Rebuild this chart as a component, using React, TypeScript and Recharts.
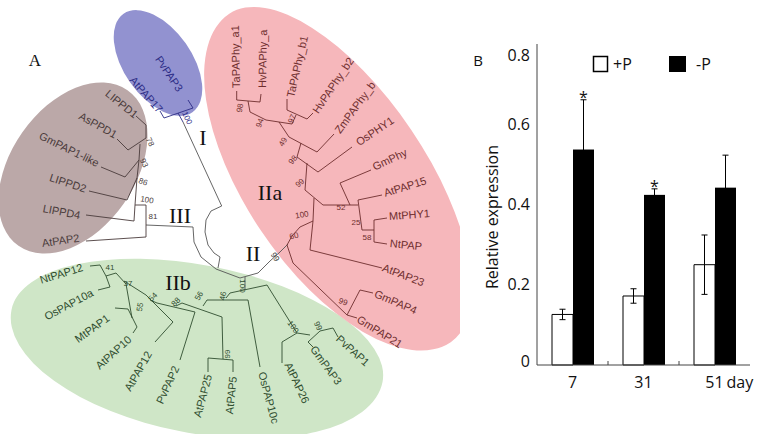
import React from 'react';
import {
  BarChart, Bar, XAxis, YAxis, ErrorBar, Customized,
  ScatterChart, Scatter,
} from 'recharts';

// ---------- panel B values ----------
const days = ['7', '31', '51'];
const plusP = [0.126, 0.172, 0.25];
const plusPErr = [0.013, 0.018, 0.074];
const minusP = [0.537, 0.424, 0.442];
const minusPErr = [0.124, 0.015, 0.081];
const starred = [true, true, false];
const yTicks = [0, 0.2, 0.4, 0.6, 0.8];

// ---------- panel A (tree), in the figure's own 460 x 434 space ----------
type Pt = [number, number];

// shaded clade areas: centre, half-length, half-widths on each side, tilt
const cladeAreas = [
  { clade: 'IIb', x: 197, y: 346, rx: 189, ryTop: 81, ryBottom: 87, angle: 11 },
  { clade: 'IIa', x: 340, y: 178, rx: 198, ryTop: 86, ryBottom: 95, angle: 56 },
  { clade: 'III', x: 73, y: 168, rx: 95, ryTop: 62, ryBottom: 62, angle: -55 },
  { clade: 'I', x: 158, y: 63, rx: 60, ryTop: 34, ryBottom: 34, angle: 55 },
];

const cladeNames = [
  { name: 'I', x: 203, y: 137 },
  { name: 'II', x: 253, y: 253 },
  { name: 'IIa', x: 270, y: 192 },
  { name: 'IIb', x: 178, y: 282 },
  { name: 'III', x: 180, y: 215 },
];

// leaf name, text start, reading angle
const leavesI: [string, number, number, number][] = [
  ['PvPAP3', 158, 57, 56],
  ['AtPAP17', 132, 78, 49],
];
const leavesIII: [string, number, number, number][] = [
  ['LIPPD1', 107, 92, 39],
  ['AsPPD1', 80, 115, 29],
  ['GmPAP1-like', 40, 135, 26],
  ['LIPPD2', 50, 177, 18],
  ['LIPPD4', 43, 208, 11],
  ['AtPAP2', 42, 243, -8],
];
const leavesIIa: [string, number, number, number][] = [
  ['TaPAPhy_a1', 236, 88, -91],
  ['HvPAPhy_a', 262, 88, -89],
  ['TaPAPhy_b1', 290, 97, -77],
  ['HvPAPhy_b2', 315, 112, -56],
  ['ZmPAPhy_b', 337, 132, -54],
  ['OsPHY1', 357, 143, -34],
  ['GmPhy', 373, 167, -25],
  ['AtPAP15', 384, 193, -17],
  ['MtPHY1', 389, 216, -4],
  ['NtPAP', 390, 243, 6],
  ['AtPAP23', 383, 267, 21],
  ['GmPAP4', 375, 293, 23],
  ['GmPAP21', 358, 318, 32],
];
const leavesIIb: [string, number, number, number][] = [
  ['NtPAP12', 40, 280, -17],
  ['OsPAP10a', 45, 317, -28],
  ['MtPAP1', 76, 340, -36],
  ['AtPAP10', 97, 367, -42],
  ['AtPAP12', 127, 390, -60],
  ['PvPAP2', 159, 403, -65],
  ['AtPAP25', 197, 417, -75],
  ['AtPAP5', 229, 414, -84],
  ['OsPAP10c', 262, 372, 75],
  ['AtPAP26', 288, 363, 65],
  ['GmPAP3', 313, 347, 54],
  ['PvPAP1', 338, 337, 42],
];

// bootstrap support: value, position, angle
const supportI: [string, number, number, number][] = [['100', 187, 118, 65]];
const supportIII: [string, number, number, number][] = [
  ['78', 150, 142, 65], ['93', 144, 163, 65], ['86', 143, 182, 20],
  ['100', 147, 200, 10], ['81', 153, 216, 0],
];
const supportIIa: [string, number, number, number][] = [
  ['98', 240, 108, -80], ['94', 260, 123, -70], ['97', 292, 119, -65],
  ['49', 283, 142, -60], ['98', 293, 160, -50], ['99', 300, 183, -40],
  ['100', 302, 215, -10], ['60', 294, 236, -15], ['52', 341, 207, 0],
  ['25', 356, 222, 0], ['58', 367, 237, 0], ['99', 343, 302, 20],
];
const supportRoot: [string, number, number, number][] = [['99', 275, 257, 55]];
const supportIIb: [string, number, number, number][] = [
  ['41', 110, 267, 0], ['37', 128, 283, 0], ['55', 140, 307, -80],
  ['54', 153, 297, -45], ['88', 176, 302, -45], ['56', 199, 296, -60],
  ['46', 223, 296, -80], ['100', 242, 286, 90], ['99', 227, 354, -90],
  ['100', 293, 327, 55], ['99', 318, 326, 65],
];

const rootBranches: Pt[][] = [
  [[183, 122], [221.7, 206]],
  [[221.7, 206], [211, 211], [206, 220], [205, 232], [208, 245], [214, 253], [220, 257], [218, 268]],
  [[146, 225], [193, 227], [194, 242], [201, 257], [216, 269], [240, 278], [258, 273], [270, 261], [280, 252], [288, 244]],
  [[245, 277], [245, 290]],
];
const branchesI: Pt[][] = [
  [[160, 111], [164, 118], [193, 108], [188, 100]],
  [[178, 113], [183, 122]],
];
const branchesIII: Pt[][] = [
  [[136, 116], [146, 125], [146, 138], [128, 150], [117, 139]],
  [[140, 144], [139, 160], [125, 177], [101, 167]],
  [[139, 160], [137, 178], [127, 200], [89, 191]],
  [[137, 178], [135, 205], [134, 221], [86, 215]],
  [[135, 205], [146, 205], [146, 237], [86, 241]],
];
const branchesIIa: Pt[][] = [
  [[236.7, 91], [236.7, 100], [260, 102], [261, 94]],
  [[248, 101], [250, 112], [266, 120], [292, 124], [296, 115]],
  [[287, 99], [287, 110], [307, 119], [313, 113]],
  [[279, 122], [289, 137], [317, 152], [334, 134]],
  [[301, 143], [297, 157], [318, 172], [352, 147]],
  [[307, 163], [305, 190], [323, 205], [350, 205]],
  [[371, 170], [340, 183], [350, 205], [358, 205]],
  [[382, 195], [358, 200], [362, 230], [374, 230]],
  [[387, 218], [374, 220], [374, 242], [387, 244]],
  [[314, 198], [313, 221]],
  [[313, 221], [310, 250], [382, 268]],
  [[313, 221], [300, 227], [292, 236], [287, 245], [293, 263], [347, 315]],
  [[373, 293], [360, 290], [347, 315], [357, 318]],
];
const branchesIIb: Pt[][] = [
  [[90, 266], [100, 265], [106, 276], [110, 287], [98, 290]],
  [[106, 276], [116, 273], [126, 284]],
  [[115, 308], [128, 309], [137, 327], [133, 333]],
  [[126, 284], [132, 318]],
  [[124, 281], [146, 295], [173, 322], [155, 342]],
  [[150, 300], [157, 303], [195, 312], [180, 360]],
  [[176, 306], [182, 303], [222, 317], [223, 359]],
  [[208, 372], [208, 358], [233, 360], [233, 372]],
  [[203, 306], [207, 300], [248, 300], [260, 367]],
  [[226, 298], [230, 293], [267, 285], [297, 333]],
  [[282, 363], [282, 342], [297, 333], [310, 335]],
  [[313, 347], [308, 342], [320, 331], [333, 328], [338, 337]],
];

const areaFill: Record<string, string> = {
  I: '#9292d0', IIa: '#f6b7bb', IIb: '#cfe6c7', III: '#bba8a8',
};
const ink: Record<string, string> = {
  I: '#2c2c86', IIa: '#6e2e2e', IIb: '#2f4d2f', III: '#4a3b3b', root: '#555555',
};

const A_W = 460;
const A_H = 434;
const sansFont = '"Liberation Sans", Arial, sans-serif';
const serifFont = '"Liberation Serif", "Times New Roman", serif';
const chartFont = '"Open Sans", "Liberation Sans", sans-serif';

const noDot = () => <g />;

// an oval made of two half-ellipses sharing the long axis
const areaShape = (props: any) => {
  const { cx, cy, payload } = props;
  const k = 1; // one data unit per pixel in panel A
  const a = payload.rx * k;
  const bt = payload.ryTop * k;
  const bb = payload.ryBottom * k;
  const d = `M ${cx - a} ${cy} A ${a} ${bt} 0 0 1 ${cx + a} ${cy} A ${a} ${bb} 0 0 1 ${cx - a} ${cy} Z`;
  return (
    <path d={d} transform={`rotate(${payload.angle} ${cx} ${cy})`} fill={areaFill[payload.clade]} />
  );
};

const leafShape = (color: string) => (props: any) => {
  const { cx, cy, payload } = props;
  return (
    <text
      x={cx}
      y={cy}
      transform={`rotate(${payload.angle} ${cx} ${cy})`}
      dominantBaseline="central"
      fontFamily={sansFont}
      fontSize={11}
      fill={color}
    >
      {payload.name}
    </text>
  );
};

const supportShape = (color: string) => (props: any) => {
  const { cx, cy, payload } = props;
  return (
    <text
      x={cx}
      y={cy}
      transform={`rotate(${payload.angle} ${cx} ${cy})`}
      dominantBaseline="central"
      textAnchor="middle"
      fontFamily={sansFont}
      fontSize={8}
      fill={color}
    >
      {payload.name}
    </text>
  );
};

const romanShape = (props: any) => {
  const { cx, cy, payload } = props;
  return (
    <text x={cx} y={cy} dominantBaseline="central" textAnchor="middle"
      fontFamily={serifFont} fontSize={22} fill="#111">
      {payload.name}
    </text>
  );
};

const toLeaves = (rows: [string, number, number, number][]) =>
  rows.map(([name, x, y, angle]) => ({ name, x, y, angle }));

const branchSeries = (lines: Pt[][], color: string, key: string) =>
  lines.map((line, i) => (
    <Scatter
      key={`${key}-${i}`}
      data={line.map(([x, y]) => ({ x, y }))}
      line={{ stroke: color, strokeWidth: 0.9 }}
      lineJointType="linear"
      shape={noDot}
      isAnimationActive={false}
    />
  ));

const TreePanel = () => (
  <ScatterChart width={A_W} height={A_H} margin={{ top: 0, right: 0, bottom: 0, left: 0 }}>
    <XAxis type="number" dataKey="x" domain={[0, A_W]} hide />
    <YAxis type="number" dataKey="y" domain={[0, A_H]} reversed hide />
    <Scatter data={cladeAreas} shape={areaShape} isAnimationActive={false} />
    {branchSeries(rootBranches, ink.root, 'root')}
    {branchSeries(branchesI, ink.I, 'b1')}
    {branchSeries(branchesIII, ink.III, 'b3')}
    {branchSeries(branchesIIa, ink.IIa, 'b2a')}
    {branchSeries(branchesIIb, ink.IIb, 'b2b')}
    <Scatter data={toLeaves(leavesI)} shape={leafShape(ink.I)} isAnimationActive={false} />
    <Scatter data={toLeaves(leavesIII)} shape={leafShape(ink.III)} isAnimationActive={false} />
    <Scatter data={toLeaves(leavesIIa)} shape={leafShape(ink.IIa)} isAnimationActive={false} />
    <Scatter data={toLeaves(leavesIIb)} shape={leafShape(ink.IIb)} isAnimationActive={false} />
    <Scatter data={toLeaves(supportI)} shape={supportShape(ink.I)} isAnimationActive={false} />
    <Scatter data={toLeaves(supportIII)} shape={supportShape(ink.III)} isAnimationActive={false} />
    <Scatter data={toLeaves(supportIIa)} shape={supportShape(ink.IIa)} isAnimationActive={false} />
    <Scatter data={toLeaves(supportRoot)} shape={supportShape('#333')} isAnimationActive={false} />
    <Scatter data={toLeaves(supportIIb)} shape={supportShape(ink.IIb)} isAnimationActive={false} />
    <Scatter data={cladeNames} shape={romanShape} isAnimationActive={false} />
    <Customized
      component={() => (
        <text x={35} y={60} dominantBaseline="central" textAnchor="middle"
          fontFamily={serifFont} fontSize={17} fill="#111">A</text>
      )}
    />
  </ScatterChart>
);

// ---------- panel B ----------
const barData = days.map((day, i) => ({
  day,
  plus: plusP[i],
  plusErr: plusPErr[i],
  minus: minusP[i],
  minusErr: minusPErr[i],
  star: starred[i],
}));

const X_GAP = 12;

const DayTick = (props: any) => {
  const { x, y, payload, index } = props;
  const half = payload.offset ?? 35.5;
  const axisY = y - X_GAP;
  const last = index === days.length - 1;
  return (
    <g>
      {!last && (
        <line x1={x + half} x2={x + half} y1={axisY} y2={axisY - 4} stroke="#444" />
      )}
      <text x={x} y={y} dy="0.71em" textAnchor="middle" fontFamily={chartFont} fontSize={16} fill="#111">
        {payload.value}
      </text>
      {last && (
        <text x={x + 12} y={y} dy="0.71em" fontFamily={chartFont} fontSize={16} fill="#111">day</text>
      )}
    </g>
  );
};

const ValueTick = (props: any) => {
  const { x, y, payload } = props;
  const v = payload.value;
  const nudge = v >= 0.8 ? 11 : v === 0 ? -4 : 0;
  return (
    <text x={x} y={y + nudge} dy="0.35em" textAnchor="end" fontFamily={chartFont} fontSize={16} fill="#111">
      {v === 0 ? '0' : v.toFixed(1)}
    </text>
  );
};

const MinusBar = (props: any) => {
  const { x, y, width, height, payload } = props;
  const perUnit = payload.minus ? height / payload.minus : 0;
  const errTop = y - payload.minusErr * perUnit;
  return (
    <g>
      <rect x={x} y={y} width={width} height={height} fill="#000" />
      {payload.star && (
        <text x={x + width / 2} y={errTop + 3} textAnchor="middle" fontFamily={chartFont} fontSize={16} fill="#111">*</text>
      )}
    </g>
  );
};

const Overlay = () => (
  <g fontFamily={chartFont} fill="#111">
    <text x={18} y={60} dominantBaseline="central" textAnchor="middle" fontSize={15}>B</text>
    <text x={32} y={217} transform="rotate(-90 32 217)" textAnchor="middle" dominantBaseline="central" fontSize={16}>
      Relative expression
    </text>
    <rect x={133.5} y={56.5} width={14} height={15} fill="#fff" stroke="#000" strokeWidth={1.5} />
    <text x={153} y={64} dominantBaseline="central" fontSize={16}>+P</text>
    <rect x={209} y={56} width={17} height={16} fill="#000" />
    <text x={236} y={64} dominantBaseline="central" fontSize={16}>-P</text>
  </g>
);

const ExpressionPanel = () => (
  <BarChart
    width={297}
    height={434}
    data={barData}
    margin={{ top: 44, right: 7, bottom: 39, left: 17 }}
    barCategoryGap={15}
    barGap={0}
  >
    <XAxis
      dataKey="day"
      tick={<DayTick />}
      tickLine={false}
      tickSize={0}
      tickMargin={X_GAP}
      axisLine={{ stroke: '#444' }}
      height={30}
      interval={0}
    />
    <XAxis xAxisId="top" dataKey="day" orientation="top" height={0} tick={false} tickLine={false} axisLine={{ stroke: '#8a8a8a' }} />
    <YAxis
      domain={[0, 0.8]}
      ticks={yTicks}
      tick={<ValueTick />}
      tickLine={false}
      tickSize={0}
      tickMargin={7}
      axisLine={{ stroke: '#444' }}
      width={60}
      interval={0}
    />
    <YAxis yAxisId="right" orientation="right" domain={[0, 0.8]} width={0} tick={false} tickLine={false} axisLine={{ stroke: '#8a8a8a' }} />
    <Bar dataKey="plus" fill="#fff" stroke="#000" strokeWidth={1} isAnimationActive={false}>
      <ErrorBar dataKey="plusErr" width={3} stroke="#000" strokeWidth={1} />
    </Bar>
    <Bar dataKey="minus" fill="#000" shape={MinusBar} isAnimationActive={false}>
      <ErrorBar dataKey="minusErr" width={3} stroke="#000" strokeWidth={1} />
    </Bar>
    <Customized component={Overlay} />
  </BarChart>
);

export default function App() {
  return (
    <div style={{ position: 'absolute', left: 0, top: 0, width: 757, height: 434, background: '#fff', overflow: 'hidden' }}>
      <div style={{ position: 'absolute', left: 0, top: 0 }}>
        <TreePanel />
      </div>
      <div style={{ position: 'absolute', left: 460, top: 0 }}>
        <ExpressionPanel />
      </div>
    </div>
  );
}
